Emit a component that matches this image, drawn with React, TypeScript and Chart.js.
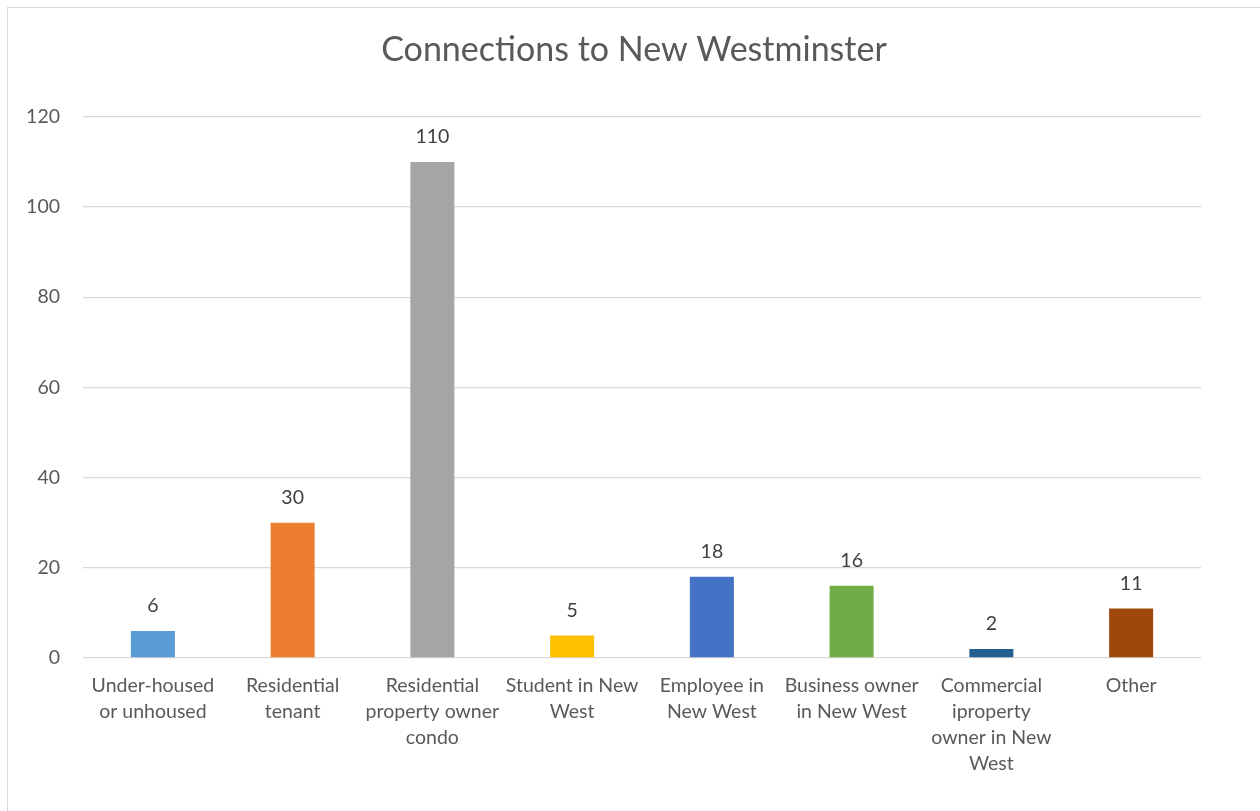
import React, { useEffect, useRef } from "react";
import { Chart, registerables } from "chart.js";

Chart.register(...registerables);

const categories: string[][] = [
  ["Under-housed", "or unhoused"],
  ["Residential", "tenant"],
  ["Residential", "property owner", "condo"],
  ["Student in New", "West"],
  ["Employee in", "New West"],
  ["Business owner", "in New West"],
  ["Commercial", "iproperty", "owner in New", "West"],
  ["Other"],
];
const values: number[] = [6, 30, 110, 5, 18, 16, 2, 11];
const barColors: string[] = [
  "#5B9BD5",
  "#ED7D31",
  "#A5A5A5",
  "#FFC000",
  "#4472C4",
  "#70AD47",
  "#255E91",
  "#9E480E",
];
const titleText = "Connections to New Westminster";
const yMin = 0;
const yMax = 120;
const yStep = 20;

const FONT = "Lato, 'Open Sans', 'Noto Sans', sans-serif";

const dataLabelPlugin = {
  id: "dataLabels",
  afterLayout(chart: any) {
    // centre the title over the whole chart box rather than the padded area
    if (chart.titleBlock) chart.titleBlock.left = 67;
  },
  afterDatasetsDraw(chart: any) {
    const ctx = chart.ctx;
    const meta = chart.getDatasetMeta(0);
    ctx.save();
    ctx.font = `19.5px ${FONT}`;
    ctx.fillStyle = "#404040";
    ctx.textAlign = "center";
    ctx.textBaseline = "middle";
    meta.data.forEach((el: any, i: number) => {
      ctx.fillText(String(values[i]), el.x, el.y - 25);
    });
    ctx.restore();
  },
};

export default function App() {
  const canvasRef = useRef<HTMLCanvasElement | null>(null);

  useEffect(() => {
    if (!canvasRef.current) return;
    const chart = new Chart(canvasRef.current, {
      type: "bar",
      data: {
        labels: categories,
        datasets: [
          {
            data: values,
            backgroundColor: barColors,
            borderWidth: 0,
            categoryPercentage: 1,
            barPercentage: 0.315,
          },
        ],
      },
      options: {
        animation: false,
        responsive: false,
        maintainAspectRatio: false,
        layout: { padding: { left: 0, right: 59, top: 0, bottom: 0 } },
        plugins: {
          legend: { display: false },
          tooltip: { enabled: false },
          title: {
            display: true,
            text: titleText,
            color: "#595959",
            font: { family: FONT, size: 34, weight: "normal", lineHeight: 1.2 },
            padding: { top: 30, bottom: 46 },
          },
        },
        scales: {
          x: {
            grid: { display: false, drawTicks: false },
            border: { display: false },
            ticks: {
              color: "#595959",
              font: { family: FONT, size: 19.5, lineHeight: 1.333 },
              padding: 15,
              maxRotation: 0,
              autoSkip: false,
            },
            afterFit(scale: any) {
              scale.height = 153;
            },
          },
          y: {
            min: yMin,
            max: yMax,
            grid: { color: "#d9d9d9", lineWidth: 1.3, drawTicks: false },
            border: { display: false },
            ticks: {
              stepSize: yStep,
              color: "#595959",
              font: { family: FONT, size: 19.5 },
              padding: 23,
            },
            afterFit(scale: any) {
              scale.width = 83;
            },
          },
        },
      },
      plugins: [dataLabelPlugin],
    });
    return () => chart.destroy();
  }, []);

  return (
    <div
      style={{
        position: "fixed",
        left: 0,
        top: 0,
        width: 1260,
        height: 811,
        background: "#ffffff",
        overflow: "hidden",
      }}
    >
      <canvas
        ref={canvasRef}
        width={1260}
        height={811}
        style={{ position: "absolute", left: 0, top: 0, width: 1260, height: 811 }}
      />
      <div
        style={{
          position: "absolute",
          left: 7,
          top: 7,
          width: 1300,
          height: 900,
          borderTop: "1.5px solid #d9d9d9",
          borderLeft: "1.5px solid #d9d9d9",
          pointerEvents: "none",
        }}
      />
    </div>
  );
}
